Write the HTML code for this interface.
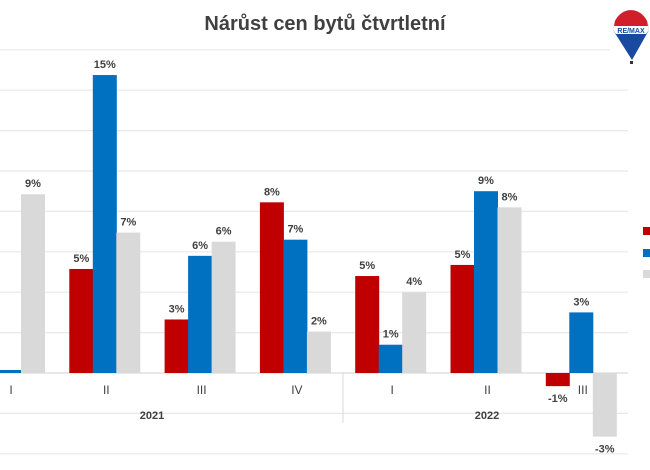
<!DOCTYPE html>
<html><head><meta charset="utf-8"><style>
body{margin:0;background:#fff;}
svg{display:block;font-family:"Liberation Sans",sans-serif;}
</style></head><body>
<svg id="chart" width="650" height="470">
<text x="325" y="30" text-anchor="middle" font-size="20" font-weight="bold" fill="#404040">Nárůst cen bytů čtvrtletní</text>
<g id="grid"></g>
<g id="bars"></g>
<g id="labels"></g>
<g id="axis"></g>
<g>
<rect x="643" y="227" width="8" height="8" fill="#c00000"/>
<rect x="643" y="249" width="8" height="8" fill="#0070c0"/>
<rect x="643" y="270" width="8" height="8" fill="#d9d9d9"/>
</g>
<g transform="translate(630,38)">
<path d="M-17,-8 A18,20 0 0 1 19,-8 L2,22 Z" fill="#1a4aa0"/>
<path d="M-17,-8 A18,20 0 0 1 19,-8 L16,-4 L-14,-4 Z" fill="#fff"/>
<path d="M-15,-17 A18,20 0 0 1 17,-17 L18,-12 L-16,-12 Z" fill="#d01f2a"/>
<text x="1" y="-5" font-size="7" font-weight="bold" fill="#1a4aa0" text-anchor="middle">RE/MAX</text>
<rect x="0" y="23" width="3" height="3" fill="#333"/>
</g>
</svg>
<script>
const categories=["I","II","III","IV","I","II","III"];
const years=["2021","2022"];
const seriesRed=[5.4,5.15,2.65,8.45,4.8,5.35,-0.65];
const seriesBlue=[0.15,14.75,5.8,6.6,1.4,9.0,3.0];
const seriesGrey=[8.85,6.95,6.5,2.05,4.0,8.2,-3.15];
const labelsRed=["","5%","3%","8%","5%","5%","-1%"];
const labelsBlue=["","15%","6%","7%","1%","9%","3%"];
const labelsGrey=["9%","7%","6%","2%","4%","8%","-3%"];
const gridValues=[-4,-2,0,2,4,6,8,10,12,14,16];
const NS="http://www.w3.org/2000/svg";
const y0=373,ppu=20.2;
function yScale(v){return y0-v*ppu;}
function xCenter(i){return 11+i*95.3;}
function mk(tag,attrs,parent){const e=document.createElementNS(NS,tag);for(const k in attrs)e.setAttribute(k,attrs[k]);parent.appendChild(e);return e;}
const grid=document.getElementById('grid'),bars=document.getElementById('bars'),labels=document.getElementById('labels'),axis=document.getElementById('axis');
gridValues.forEach(v=>{const y=yScale(v);const l=mk('line',{x1:0,x2:v===16?610:628,y1:y,y2:y,stroke:v===0?'#d9d9d9':'#e8e8e8','stroke-width':1.2},grid);

});
const series=[[seriesRed,'#c00000',labelsRed,'red'],[seriesBlue,'#0070c0',labelsBlue,'blue'],[seriesGrey,'#d9d9d9',labelsGrey,'grey']];
categories.forEach((c,i)=>{
 const cx=xCenter(i);
 series.forEach((s,j)=>{
  const v=s[0][i];const x=cx-37+j*23.5;const yt=yScale(Math.max(v,0)),yb=yScale(Math.min(v,0));
  const r=mk('rect',{x:x,y:yt,width:24,height:Math.max(yb-yt,1),fill:s[1]},bars);
  
  
  if(s[2][i]){const ly=v>=0?yt-7:yb+16;
   const t=mk('text',{x:x+12,y:ly,'text-anchor':'middle','font-size':11,'font-weight':'bold',fill:'#404040'},labels);t.textContent=s[2][i];
   
   }
 });
 const t=mk('text',{x:cx,y:394,'text-anchor':'middle','font-size':12,fill:'#404040'},axis);t.textContent=c;
 
 
});
const d=mk('line',{x1:343,x2:343,y1:373,y2:423,stroke:'#d9d9d9'},axis);


[[152,years[0]],[487,years[1]]].forEach(p=>{const t=mk('text',{x:p[0],y:419,'text-anchor':'middle','font-size':11,'font-weight':'bold',fill:'#404040'},axis);t.textContent=p[1];

});
</script>
</body></html>
